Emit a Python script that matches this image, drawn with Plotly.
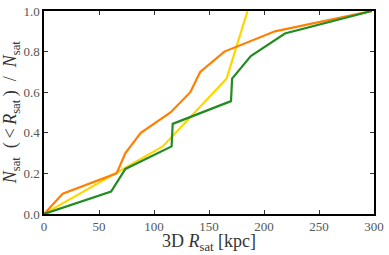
import plotly.graph_objects as go

# Data
orange_r = [0, 17, 66, 74, 88, 115, 133, 142, 164, 210, 298]
orange_f = [0.0, 0.1, 0.2, 0.3, 0.4, 0.5, 0.6, 0.7, 0.8, 0.9, 1.0]

green_r = [0, 61, 74, 116, 117, 170, 171, 188, 219, 298]
green_f = [0.0, 0.111, 0.222, 0.333, 0.444, 0.556, 0.667, 0.778, 0.889, 1.0]

yellow_r = [0, 108, 166, 185]
yellow_f = [0.0, 0.333, 0.667, 1.0]

x_ticks = [0, 50, 100, 150, 200, 250, 300]
y_ticks = [0.0, 0.2, 0.4, 0.6, 0.8, 1.0]

FONT = "Liberation Serif, DejaVu Serif, serif"

fig = go.Figure()
fig.add_trace(go.Scatter(x=yellow_r, y=yellow_f, mode="lines",
                         line=dict(color="#FFD700", width=2.2), showlegend=False))
fig.add_trace(go.Scatter(x=orange_r, y=orange_f, mode="lines",
                         line=dict(color="#FF7F00", width=2.2), showlegend=False))
fig.add_trace(go.Scatter(x=green_r, y=green_f, mode="lines",
                         line=dict(color="#228B22", width=2.2), showlegend=False))

axis_common = dict(
    showgrid=False, zeroline=False, showline=True, linecolor="black", linewidth=1.5,
    mirror="ticks", ticks="inside", ticklen=4, tickwidth=1, tickcolor="#333",
    tickfont=dict(family=FONT, size=13, color="#555"), automargin=False,
)

fig.update_layout(
    width=389, height=255,
    margin=dict(l=44, r=15, t=11, b=41),
    paper_bgcolor="white", plot_bgcolor="white",
    font=dict(family=FONT, color="#333"),
    xaxis=dict(range=[0, 300], tickvals=x_ticks, ticktext=[str(v) for v in x_ticks],
               **axis_common),
    yaxis=dict(range=[0, 1], tickvals=y_ticks, ticktext=[f"{v:.1f}" for v in y_ticks],
               **axis_common),
)

fig.add_annotation(text="3D <i>R</i><sub>sat</sub> [kpc]", xref="paper", yref="paper",
                   x=0.5, y=-0.14, xanchor="center", yanchor="middle", showarrow=False,
                   font=dict(family=FONT, size=18, color="#333"))
fig.add_annotation(text="<i>N</i><sub>sat</sub>\u2002(\u2009&lt;\u2009<i>R</i><sub>sat</sub>\u2009)\u2002/\u2002<i>N</i><sub>sat</sub>",
                   xref="paper", yref="paper", x=-0.098, y=0.5, xanchor="center", yanchor="middle",
                   textangle=-90, showarrow=False,
                   font=dict(family=FONT, size=18, color="#333"))

fig.write_html("out.html", config={"displayModeBar": False},
               post_script="document.body.style.margin='0';document.body.style.overflow='hidden';")
